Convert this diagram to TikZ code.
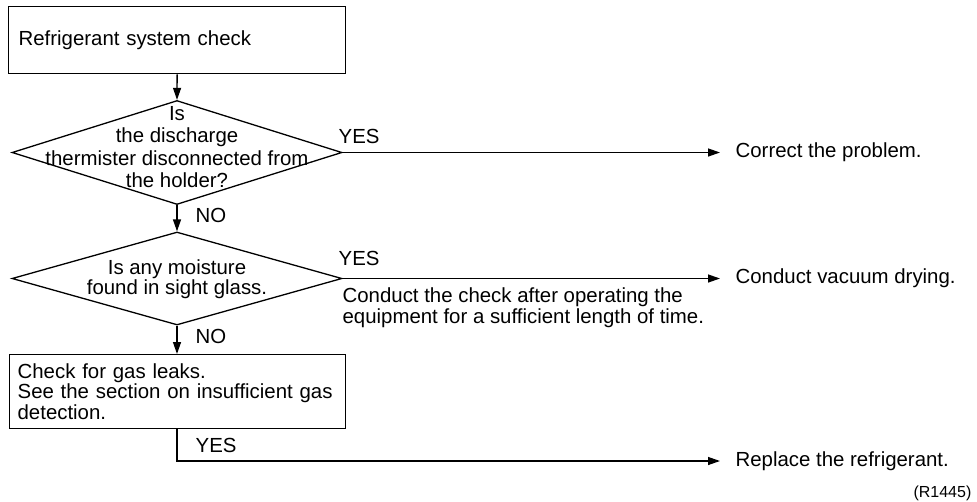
\documentclass[tikz,border=0pt]{standalone}
\usepackage{fontspec}
\setmainfont{Liberation Sans}
\usetikzlibrary{arrows.meta,shapes.geometric}

\begin{document}
\begin{tikzpicture}[x=1pt,y=-1pt,
  line width=1.3pt,
  txt/.style={font=\fontsize{20.4}{20.3}\selectfont, inner sep=0pt},
  lbl/.style={txt, anchor=base west},
  stepbox/.style={draw, rectangle, anchor=north west, align=left,
    font=\fontsize{20.4}{20.3}\selectfont, inner ysep=0pt},
  query/.style={draw, diamond, inner sep=0pt, minimum width=330pt},
  result/.style={txt, anchor=west, inner xsep=15pt},
  arr/.style={-{Triangle[length=12pt,width=8pt]}},
]
\useasboundingbox (0,0) rectangle (977,501);

% process boxes
\node[stepbox, text width=317pt, inner xsep=10pt, minimum height=67pt]
  (start) at (8,6) {Refrigerant system check};
\node[stepbox, text width=320pt, inner xsep=8pt, minimum height=74pt]
  (leak) at (9,354) {Check for gas leaks.\\See the section on insufficient gas\\detection.};

% decisions
\node[query, minimum height=104pt] (q1) at (177,152.5) {};
\node[txt, align=center, font=\fontsize{20.4}{22.3}\selectfont] (q1t) at (177,147)
  {Is\\the discharge\\thermister disconnected from\\the holder?};
\node[query, minimum height=93pt] (q2) at (177,278.5) {};
\node[txt, align=center] (q2t) at (177,279) {Is any moisture\\found in sight glass.};

% outcomes
\node[result] (fix1) at (720,152.5) {Correct the problem.};
\node[result] (fix2) at (720,278.5) {Conduct vacuum drying.};
\node[result] (fix3) at (720,461) {Replace the refrigerant.};
\node[txt, align=left, anchor=west] (note) at (342,307.7)
  {Conduct the check after operating the\\equipment for a sufficient length of time.};

% connectors
\draw[arr] (start.south) -- (q1.north);
\draw[arr] (q1.south) -- (q2.north);
\draw[arr] (q2.south) -- (leak.north -| q2.south);
\draw[arr] (q1.east) -- (q1.east -| fix1.west);
\draw[arr] (q2.east) -- (q2.east -| fix2.west);
\draw[arr] (leak.south -| q2.south) |- (fix3.west);

% branch labels
\node[lbl] (y1) at (338,143) {YES};
\node[lbl] (n1) at (195,222.7) {NO};
\node[lbl] (y2) at (338,265) {YES};
\node[lbl] (n2) at (195,343) {NO};
\node[lbl] (y3) at (195,452) {YES};

\node[font=\fontsize{16}{18}\selectfont, inner sep=0pt, anchor=base east] (ref) at (972,497) {(R1445)};
\end{tikzpicture}
\end{document}
